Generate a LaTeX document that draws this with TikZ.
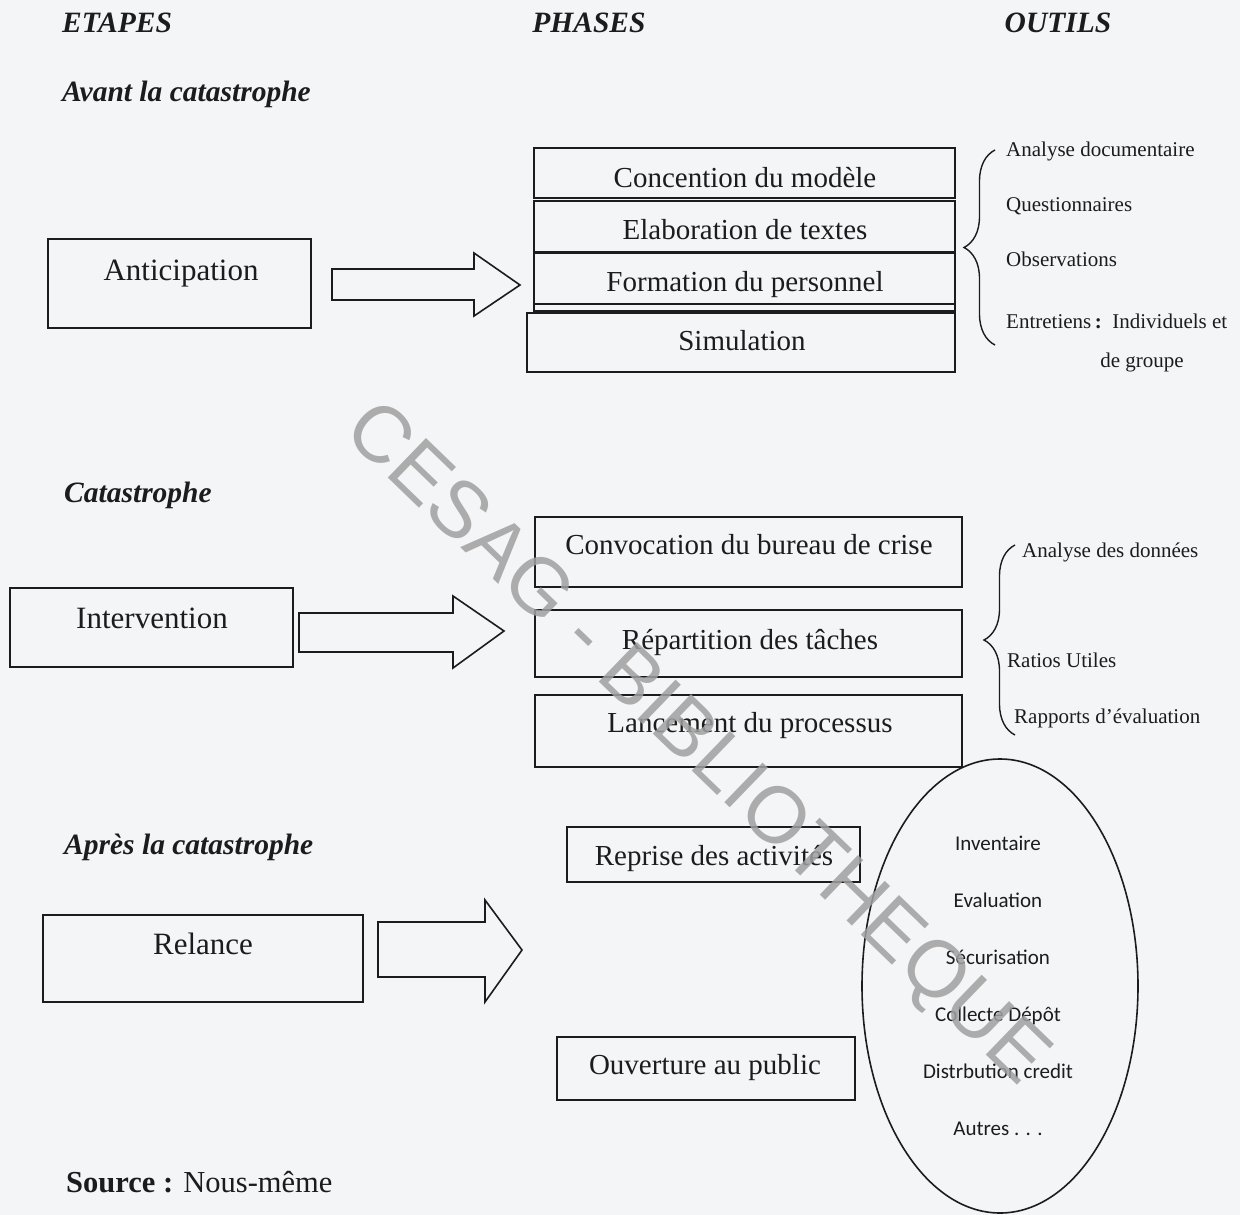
\documentclass[tikz,border=0pt]{standalone}
\usepackage{fontspec}
\setmainfont{Liberation Serif}
\newfontfamily\calfont{Carlito}
\newfontfamily\wmfont{Liberation Sans}
\usetikzlibrary{shapes.geometric,decorations.pathreplacing}
\definecolor{bg}{RGB}{244,245,247}
\definecolor{ink}{RGB}{28,28,28}
\definecolor{wmgray}{RGB}{160,160,160}
\newcommand{\fsz}[1]{\fontsize{#1}{#1}\selectfont}
\begin{document}
\begin{tikzpicture}[x=1pt,y=-1pt,
  box/.style={draw=ink,line width=1.6pt,inner sep=0pt},
  bigarrow/.style={draw=ink,line width=1.6pt,line join=miter},
  brace/.style={draw=ink,line width=1.4pt,decorate,decoration={brace,amplitude=31pt}},
  header/.style={text=ink,font=\fsz{29.5}\bfseries\itshape,inner sep=0pt,anchor=base},
  stage/.style={text=ink,font=\fsz{29.5}\bfseries\itshape,inner sep=0pt,anchor=base west},
  etapetext/.style={text=ink,font=\fsz{31},inner sep=0pt,anchor=base},
  phasetext/.style={text=ink,font=\fsz{29},inner sep=0pt,anchor=base},
  tooltext/.style={text=ink,font=\fsz{21},inner sep=0pt,anchor=base west},
  ovaltext/.style={text=ink,font=\calfont\fsz{21},inner sep=0pt,anchor=base}]
\fill[bg] (0,0) rectangle (1240,1215);
\useasboundingbox (0,0) rectangle (1240,1215);

% headers
\node[header] (hEtapes) at (117,33) {ETAPES};
\node[header] (hPhases) at (589,33) {PHASES};
\node[header] (hOutils) at (1058,33) {OUTILS};

% stage titles
\node[stage] (sAvant) at (62,101) {Avant la catastrophe};
\node[stage] (sCata) at (64,502) {Catastrophe};
\node[stage] (sApres) at (64,854) {Après la catastrophe};

% ---------- Anticipation ----------
\node[box,minimum width=263pt,minimum height=89pt] (anticip) at (179.5,283.5) {};
\node[etapetext] (anticipT) at (181,280) {Anticipation};
\draw[bigarrow] (332,269) -- (474,269) -- (474,253) -- (520,285) -- (474,316) -- (474,300) -- (332,300) -- cycle;

\node[box,minimum width=421pt,minimum height=50pt] (p1) at (744.5,173) {};
\node[phasetext] (p1T) at (745,187) {Concention du modèle};
\node[box,minimum width=421pt,minimum height=51pt] (p2) at (744.5,226.5) {};
\node[phasetext] (p2T) at (745,239) {Elaboration de textes};
\node[box,minimum width=421pt,minimum height=51pt] (p3) at (744.5,278.5) {};
\node[phasetext] (p3T) at (745,291) {Formation du personnel};
\node[box,minimum width=421pt,minimum height=7pt] (p3b) at (744.5,307.5) {};
\node[box,minimum width=428pt,minimum height=59pt] (p4) at (741,342.5) {};
\node[phasetext] (p4T) at (742,350) {Simulation};

\draw[brace] (995,345) -- (995,150);
\node[tooltext] (t1) at (1006,156) {Analyse documentaire};
\node[tooltext] (t2) at (1006,211) {Questionnaires};
\node[tooltext] (t3) at (1006,266) {Observations};
\node[tooltext] (t4) at (1006,328) {Entretiens\,\textbf{:}\, Individuels et};
\node[tooltext,anchor=base] (t5) at (1142,367) {de groupe};

% ---------- Intervention ----------
\node[box,minimum width=283pt,minimum height=79pt] (interv) at (151.5,627.5) {};
\node[etapetext] (intervT) at (152,628) {Intervention};
\draw[bigarrow] (299,613) -- (453,613) -- (453,596) -- (504,631) -- (453,668) -- (453,652) -- (299,652) -- cycle;

\node[box,minimum width=427pt,minimum height=70pt] (q1) at (748.5,552) {};
\node[phasetext] (q1T) at (749,554) {Convocation du bureau de crise};
\node[box,minimum width=427pt,minimum height=67pt] (q2) at (748.5,643.5) {};
\node[phasetext] (q2T) at (750,649) {Répartition des tâches};
\node[box,minimum width=427pt,minimum height=72pt] (q3) at (748.5,731) {};
\node[phasetext] (q3T) at (750,732) {Lancement du processus};

\draw[brace] (1015,735) -- (1015,545);
\node[tooltext] (u1) at (1022,557) {Analyse des données};
\node[tooltext] (u2) at (1007,667) {Ratios Utiles};
\node[tooltext] (u3) at (1014,723) {Rapports d’évaluation};

% ---------- Relance ----------
\node[box,minimum width=320pt,minimum height=87pt] (relance) at (203,958.5) {};
\node[etapetext] (relanceT) at (203,954) {Relance};
\draw[bigarrow] (378,922) -- (485,922) -- (485,900) -- (522,950) -- (485,1002) -- (485,977) -- (378,977) -- cycle;

\node[box,minimum width=293pt,minimum height=55pt] (r1) at (713.5,854.5) {};
\node[phasetext] (r1T) at (714,865) {Reprise des activités};
\node[box,minimum width=298pt,minimum height=63pt] (r2) at (706,1068.5) {};
\node[phasetext] (r2T) at (705,1074) {Ouverture au public};

\node[draw=ink,line width=1.6pt,ellipse,inner sep=0pt,minimum width=276pt,minimum height=454pt] (oval) at (1000,986) {};
\node[ovaltext] (v1) at (998,850) {Inventaire};
\node[ovaltext] (v2) at (998,907) {Evaluation};
\node[ovaltext] (v3) at (998,964) {Sécurisation};
\node[ovaltext] (v4) at (998,1021) {Collecte Dépôt};
\node[ovaltext] (v5) at (998,1078) {Distrbution credit};
\node[ovaltext] (v6) at (998,1135) {Autres . . .};

% source
\node[text=ink,font=\fsz{30.5},inner sep=0pt,anchor=base west] (src) at (66,1192) {\textbf{Source :} Nous-même};

% watermark
\node[text=wmgray,text opacity=0.85,font=\wmfont\fsz{80},inner sep=0pt,rotate=-44] (wm) at (695,746) {CESAG - BIBLIOTHEQUE};
\end{tikzpicture}
\end{document}
